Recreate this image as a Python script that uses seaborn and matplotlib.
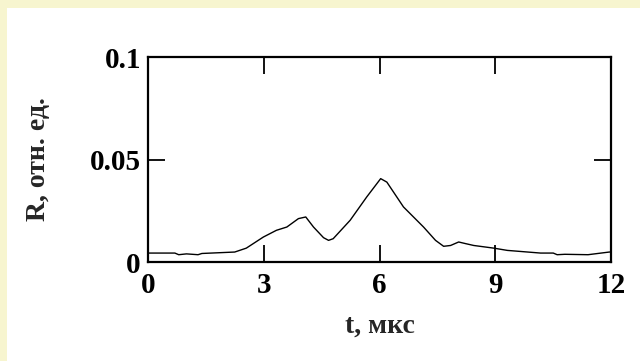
import numpy as np
import pandas as pd
import seaborn as sns
import matplotlib.pyplot as plt
from matplotlib.patches import Rectangle

# Данные
t_us = [0.0, 0.7, 0.8, 1.0, 1.3, 1.4, 2.25, 2.55, 2.99, 3.33, 3.6, 3.9, 4.09,
        4.29, 4.55, 4.68, 4.8, 5.24, 5.67, 6.03, 6.19, 6.62, 7.14, 7.45, 7.66,
        7.84, 8.05, 8.23, 8.44, 8.96, 9.31, 10.17, 10.5, 10.6, 10.8, 11.4, 11.95, 12.0]
R_rel = [0.0044, 0.0044, 0.0036, 0.0040, 0.0036, 0.0042, 0.0049, 0.0068, 0.0122,
         0.0155, 0.0171, 0.0212, 0.0220, 0.0171, 0.0119, 0.0106, 0.0114, 0.0204,
         0.0318, 0.0407, 0.0390, 0.0269, 0.0171, 0.0106, 0.0077, 0.0081, 0.0098,
         0.0090, 0.0081, 0.0068, 0.0057, 0.0044, 0.0044, 0.0036, 0.0038, 0.0036,
         0.0049, 0.0049]

x_ticks = [0, 3, 6, 9, 12]
y_ticks = [0, 0.05, 0.1]
y_tick_labels = ['0', '0.05', '0.1']

df = pd.DataFrame({'t': t_us, 'R': R_rel})

sns.set_style('ticks')
plt.rcParams['font.family'] = ['Liberation Serif', 'DejaVu Serif']
plt.rcParams['font.weight'] = 'bold'

fig = plt.figure(figsize=(6.4, 3.61), dpi=100, facecolor='#f7f5cf')
# белая подложка как на картинке
fig.patches.append(Rectangle((7 / 640, 0), 1, 1 - 8 / 361, transform=fig.transFigure,
                             facecolor='white', edgecolor='none', zorder=-10))
ax = fig.add_axes([0.231, 0.274, 0.724, 0.568])
ax.set_zorder(5)

sns.lineplot(data=df, x='t', y='R', color='black', linewidth=1.0, ax=ax)

ax.set_xlim(0, 12)
ax.set_ylim(0, 0.1)
ax.set_xticks(x_ticks)
ax.set_xticklabels([str(v) for v in x_ticks])
ax.set_yticks(y_ticks)
ax.set_yticklabels(y_tick_labels)
ax.tick_params(direction='in', length=12, width=1.3, top=True, right=True,
               labelsize=21, pad=5, colors='black')
ax.tick_params(axis='x', pad=7)
for s in ax.spines.values():
    s.set_linewidth(1.6)
    s.set_color('black')

ax.set_xlabel('t, мкс', fontsize=20, fontweight='bold', labelpad=11)
ax.set_ylabel('R, отн. ед.', fontsize=20, fontweight='bold', labelpad=28)

fig.savefig('out.png', dpi=100, facecolor=fig.get_facecolor())
